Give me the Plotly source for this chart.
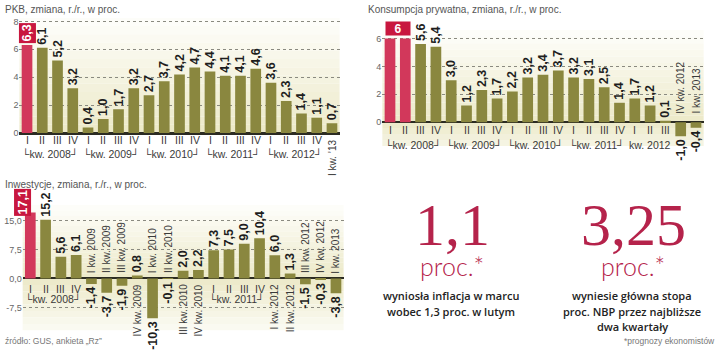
import plotly.graph_objects as go

W, H = 720, 351

# ---------------- data ----------------
quarters = ["I", "II", "III", "IV"] * 5 + ["I"]
years = [2008] * 4 + [2009] * 4 + [2010] * 4 + [2011] * 4 + [2012] * 4 + [2013]

pkb = [6.3, 6.1, 5.2, 3.2, 0.4, 1.0, 1.7, 3.2, 2.7, 3.7, 4.2, 4.7, 4.4, 4.1, 4.1, 4.6, 3.6, 2.3, 1.4, 1.1, 0.7]
konsumpcja = [6.0, 6.0, 5.6, 5.4, 3.0, 1.2, 2.3, 1.7, 2.2, 3.2, 3.4, 3.7, 3.2, 3.1, 2.5, 1.4, 1.7, 1.2, 0.1, -1.0, -0.4]
inwestycje = [17.1, 15.2, 5.6, 6.1, -1.4, -3.7, -1.9, 0.8, -10.3, -0.1, 2.0, 2.2, 7.3, 7.5, 9.0, 10.4, 6.0, 1.3, -1.5, -0.3, -3.8]

title_pkb = "PKB, zmiana, r./r., w proc."
title_kons = "Konsumpcja prywatna, zmiana, r./r., w proc."
title_inw = "Inwestycje, zmiana, r./r., w proc."

pkb_ticks = [0, 2, 4, 6, 8]
kons_ticks = [0, 2, 4, 6]
inw_ticks = [-7.5, 0, 7.5, 15]
inw_ticktext = ["-7,5", "0,0", "7,5", "15,0"]

inflacja = "1,1"
stopa = "3,25"
inflacja_lines = ["wyniosła inflacja w marcu", "wobec 1,3 proc. w lutym"]
stopa_lines = ["wyniesie główna stopa", "proc. NBP przez najbliższe", "dwa kwartały"]
source_txt = "źródło: GUS, ankieta „Rz”"
note_txt = "*prognozy ekonomistów"

# ---------------- style ----------------
OLIVE = "#8a873f"
RED = "#d2385b"
RED_BOX = "#c8173f"
CRIMSON = "#b5234b"
SANS = "Liberation Sans, Arial, sans-serif"
AXC = "#2b2b22"


def px_x(p):
    return p / W


def px_y(p):
    return 1 - p / H


def fmt(v):
    return f"{v:.1f}".replace(".", ",")


fig = go.Figure()


def bars(vals, highlight, hide, xa, ya):
    colors = [RED if i in highlight else OLIVE for i in range(len(vals))]
    text = ["" if i in hide else fmt(v) for i, v in enumerate(vals)]
    fig.add_trace(go.Bar(
        x=list(range(len(vals))), y=vals, width=0.7,
        marker=dict(color=colors, line=dict(width=0)),
        text=text, textposition="outside", textangle=-90,
        textfont=dict(family=SANS, size=12.5, color="#1e1e1e", weight="bold"),
        constraintext="none", cliponaxis=False,
        xaxis=xa, yaxis=ya, showlegend=False, hoverinfo="skip"))


bars(pkb, [0], [0], "x", "y")
bars(konsumpcja, [0, 1], [0, 1], "x2", "y2")
bars(inwestycje, [0], [0], "x3", "y3")

# axes geometry (pixel based)
ax_common = dict(showgrid=False, zeroline=False, showticklabels=False, fixedrange=True)
y_common = dict(showgrid=True, griddash="dot", gridcolor="#8a8a80", gridwidth=1,
                zeroline=True, zerolinecolor=AXC, zerolinewidth=2,
                ticks="", tickfont=dict(family=SANS, size=9, color="#666"), fixedrange=True)

fig.update_layout(
    xaxis=dict(domain=[px_x(19.4), px_x(339.6)], range=[-0.5, 20.5], anchor="y",
               showline=True, linecolor=AXC, linewidth=2, **ax_common),
    yaxis=dict(domain=[px_y(134.3), px_y(134.3 - 8.25 * 14.2)], range=[0, 8.25],
               tickvals=pkb_ticks, anchor="x", **y_common),
    xaxis2=dict(domain=[px_x(382.35), px_x(703.65)], range=[-0.5, 20.5], anchor="y2", **ax_common),
    yaxis2=dict(domain=[px_y(123.3 + 1.7 * 14.2), px_y(123.3 - 6.6 * 14.2)], range=[-1.7, 6.6],
                tickvals=kons_ticks, anchor="x2", **y_common),
    xaxis3=dict(domain=[px_x(22.66), px_x(343.6)], range=[-0.5, 20.5], anchor="y3", **ax_common),
    yaxis3=dict(domain=[px_y(282.3 + 13.5 * 3.93), px_y(282.3 - 19 * 3.93)], range=[-13.5, 19],
                tickvals=inw_ticks, ticktext=inw_ticktext, anchor="x3", **y_common),
)

# background gradient bands (decoration)
shapes = []


def mix(c1, c2, t):
    a = [int(c1[i:i + 2], 16) for i in (1, 3, 5)]
    b = [int(c2[i:i + 2], 16) for i in (1, 3, 5)]
    return "#%02x%02x%02x" % tuple(round(a[k] + (b[k] - a[k]) * t) for k in range(3))


def bg(xa, ya, top, bottom, ctop="#fefefb", cbot="#ece9c8", n=14):
    for k in range(n):
        y0 = top + (bottom - top) * k / n
        y1 = top + (bottom - top) * (k + 1) / n
        shapes.append(dict(type="rect", xref=xa + " domain", yref=ya, x0=0, x1=1, y0=y0, y1=y1,
                           fillcolor=mix(ctop, cbot, (k + 0.5) / n), line=dict(width=0), layer="below"))


bg("x", "y", 8.25, 0)
bg("x2", "y2", 6.6, 0)
bg("x2", "y2", 0, -1.7, ctop="#ece9c8", cbot="#f6f5e6", n=4)
bg("x3", "y3", 19, 0)
bg("x3", "y3", 0, -13.5, ctop="#ece9c8", cbot="#fbfbf4", n=8)

# ---------------- annotations ----------------
ann = []
LBL = dict(family=SANS, size=10.5, color="#3a3a3a")
LBLR = dict(family=SANS, size=10, color="#3a3a3a")


def A(**kw):
    d = dict(showarrow=False, xanchor="center", yanchor="middle")
    d.update(kw)
    ann.append(d)


# titles
TF = dict(family=SANS, size=10, color="#555")
A(text=title_pkb, x=px_x(3), y=px_y(9), xref="paper", yref="paper", xanchor="left", font=TF)
A(text=title_kons, x=px_x(366), y=px_y(9), xref="paper", yref="paper", xanchor="left", font=TF)
A(text=title_inw, x=px_x(3), y=px_y(187), xref="paper", yref="paper", xanchor="left", font=TF)

# highlighted value boxes
A(text="<b>6,3</b>", x=0, xref="x", y=pkb[0], yref="y", yanchor="bottom", yshift=1, textangle=-90,
  bgcolor=RED_BOX, borderpad=1, font=dict(family=SANS, size=12.5, color="white"))
A(text="<b>6</b>", x=0.5, xref="x2", y=konsumpcja[0], yref="y2", yanchor="bottom", yshift=2,
  bgcolor=RED_BOX, width=22, height=11, font=dict(family=SANS, size=12, color="white"))
A(text="<b>17,1</b>", x=-0.48, xref="x3", y=inwestycje[0], yref="y3", yanchor="bottom", yshift=-4, textangle=-90,
  bgcolor=RED_BOX, borderpad=1, font=dict(family=SANS, size=12.5, color="white"))

# chart 1 x labels
for i, (q, yr) in enumerate(zip(quarters, years)):
    if yr < 2013:
        A(text=q, x=i, xref="x", y=px_y(141.7), yref="paper", font=LBL)
    else:
        A(text="I kw. ’13", x=i, xref="x", y=px_y(138), yref="paper", yanchor="top", textangle=-90, font=LBLR)
for k, yr in enumerate(range(2008, 2013)):
    A(text=f"└kw. {yr}┘", x=4 * k + 1.5, xref="x", y=px_y(155.5), yref="paper", font=LBL)

# chart 2 x labels
for i, (q, yr) in enumerate(zip(quarters, years)):
    if i < 19:
        A(text=q, x=i, xref="x2", y=px_y(131.7), yref="paper", font=LBL)
    else:
        lab = f"{q} kw. {yr}"
        A(text=lab, x=i, xref="x2", y=px_y(117), yref="paper", yanchor="bottom", textangle=-90, font=LBLR)
for k, yr in enumerate(range(2008, 2012)):
    A(text=f"└kw. {yr}┘", x=4 * k + 1.5, xref="x2", y=px_y(146), yref="paper", font=LBL)
A(text="kw. 2012", x=17, xref="x2", y=px_y(146), yref="paper", font=LBL)

# chart 3 x labels
for i, (q, yr, v) in enumerate(zip(quarters, years, inwestycje)):
    if yr in (2008, 2011):
        A(text=q, x=i, xref="x3", y=px_y(292.7), yref="paper", font=LBL)
    else:
        lab = f"{q} kw. {yr}"
        if v < 0:
            A(text=lab, x=i, xref="x3", y=px_y(279), yref="paper", yanchor="bottom", textangle=-90, font=LBLR)
        else:
            A(text=lab, x=i, xref="x3", y=px_y(286), yref="paper", yanchor="top", textangle=-90, font=LBLR)
for yr, c in ((2008, 1.5), (2011, 13.5)):
    A(text=f"└kw. {yr}┘", x=c, xref="x3", y=px_y(303), yref="paper", font=LBL)

# big numbers
BIG = dict(family="Liberation Serif, Times New Roman, serif", size=60, color=CRIMSON)
PROC = dict(family="Lato Light, Lato, Open Sans Light, sans-serif", size=25, color=CRIMSON, weight=300)
BODY = dict(family="Open Sans, Liberation Sans, sans-serif", size=11, color="#222", weight=600)
A(text=inflacja, x=px_x(452), y=px_y(228), xref="paper", yref="paper", font=BIG)
A(text="proc.*", x=px_x(452), y=px_y(270), xref="paper", yref="paper", font=PROC)
for j, line in enumerate(inflacja_lines):
    A(text=line, x=px_x(451), y=px_y(300 + 15.5 * j), xref="paper", yref="paper", font=BODY)
A(text=stopa, x=px_x(633), y=px_y(228), xref="paper", yref="paper", font=BIG)
A(text="proc.*", x=px_x(633), y=px_y(270), xref="paper", yref="paper", font=PROC)
for j, line in enumerate(stopa_lines):
    A(text=line, x=px_x(632), y=px_y(300 + 15.5 * j), xref="paper", yref="paper", font=BODY)

A(text=source_txt, x=px_x(3), y=px_y(346), xref="paper", yref="paper", xanchor="left",
  font=dict(family=SANS, size=8.5, color="#777"))
A(text=note_txt, x=px_x(717), y=px_y(346), xref="paper", yref="paper", xanchor="right",
  font=dict(family=SANS, size=8.5, color="#777"))

fig.update_layout(
    width=W, height=H, margin=dict(l=0, r=0, t=0, b=0),
    paper_bgcolor="white", plot_bgcolor="rgba(0,0,0,0)",
    shapes=shapes, annotations=ann, showlegend=False,
    barmode="group",
)

fig.write_html("out.html", config={"displayModeBar": False})
